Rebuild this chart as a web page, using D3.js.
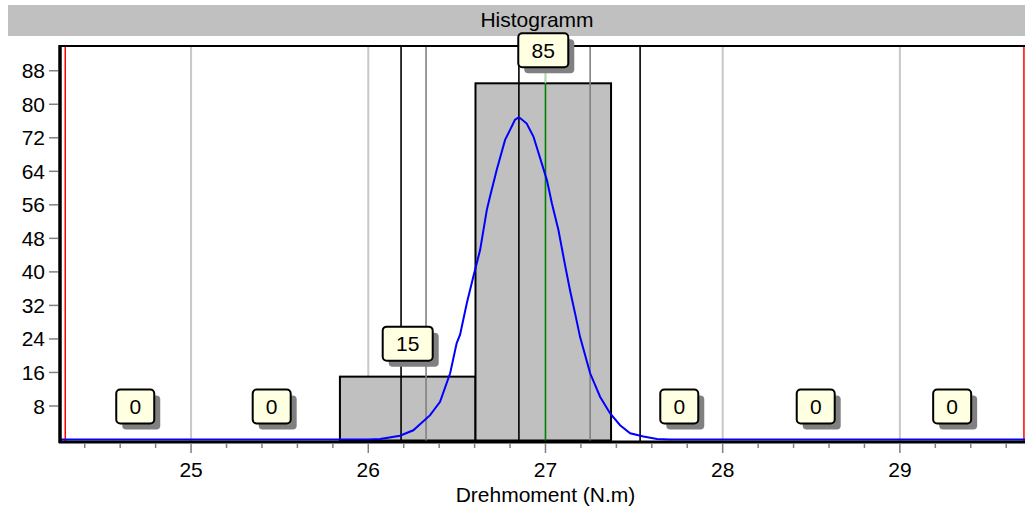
<!DOCTYPE html>
<html><head><meta charset="utf-8">
<script src="https://cdn.jsdelivr.net/npm/d3@7"></script>
<style>body{margin:0;background:#fff;}svg{display:block;font-family:"Liberation Sans",Arial,sans-serif;}</style>
</head><body>
<svg id="c" width="1025" height="509"></svg>
<script>
const title = "Histogramm";
const xTitle = "Drehmoment (N.m)";
const binStart = [24.30, 25.07, 25.84, 26.605, 27.37, 28.14, 28.91];
const binEnd   = [25.07, 25.84, 26.605, 27.37, 28.14, 28.91, 29.68];
const counts   = [0, 0, 15, 85, 0, 0, 0];
const xTicks = [25, 26, 27, 28, 29];
const yTicks = [8, 16, 24, 32, 40, 48, 56, 64, 72, 80, 88];
const blackLines = [26.185, 26.85, 27.534];
const grayLines = [26.326, 27.252];
const greenLine = 27.0;
const redLines = [24.29, 29.70];
const curveX = [24.266, 26.0, 26.067, 26.179, 26.254, 26.349, 26.405, 26.462, 26.499, 26.518, 26.556, 26.593, 26.631, 26.669, 26.687, 26.725, 26.772, 26.800, 26.828, 26.847, 26.857, 26.894, 26.932, 26.979, 27.008, 27.036, 27.073, 27.111, 27.139, 27.167, 27.195, 27.252, 27.308, 27.365, 27.421, 27.478, 27.553, 27.629, 27.70, 29.706];
const curveY = [0, 0, 0.1, 0.9, 2.2, 5.8, 9.0, 15.8, 23.0, 25.0, 32.5, 38.9, 45.2, 54.8, 58.0, 64.4, 71.5, 73.9, 76.3, 76.8, 76.7, 75.4, 72.3, 65.9, 61.9, 56.4, 50.0, 41.5, 35.5, 30.1, 24.5, 15.8, 10.2, 6.2, 3.4, 1.5, 0.7, 0.1, 0, 0];

const svg = d3.select("#c");
const x = d3.scaleLinear().domain([24.266, 29.706]).range([61, 1025]);
const y = d3.scaleLinear().domain([0, 94]).range([439.5, 45.6]);
const plotTop = 46, plotBot = 441;
const fs = 21;

// title band
svg.append("rect").attr("x", 8).attr("y", 5).attr("width", 1017).attr("height", 31).attr("fill", "#c0c0c0");
svg.append("text").attr("x", 537).attr("y", 27).attr("text-anchor", "middle").attr("font-size", fs).attr("fill", "#000").text(title);

// grid
svg.append("g").selectAll("line").data(xTicks).join("line")
  .attr("x1", d => x(d)).attr("x2", d => x(d)).attr("y1", plotTop).attr("y2", plotBot)
  .attr("stroke", "#c8c8c8").attr("stroke-width", 2);

// bars
const bins = counts.map((c, i) => ({c, s: binStart[i], e: binEnd[i]}));
svg.append("g").selectAll("rect").data(bins.filter(b => b.c > 0)).join("rect")
  .attr("x", d => x(d.s)).attr("width", d => x(d.e) - x(d.s))
  .attr("y", d => y(d.c)).attr("height", d => y(0) - y(d.c) + 1)
  .attr("fill", "#c0c0c0").attr("stroke", "#000").attr("stroke-width", 2);

// reference lines
svg.append("g").selectAll("line").data(grayLines).join("line")
  .attr("x1", d => x(d)).attr("x2", d => x(d)).attr("y1", plotTop).attr("y2", plotBot)
  .attr("stroke", "#808080").attr("stroke-width", 1.6);
svg.append("g").selectAll("line").data(blackLines).join("line")
  .attr("x1", d => x(d)).attr("x2", d => x(d)).attr("y1", plotTop).attr("y2", plotBot)
  .attr("stroke", "#000").attr("stroke-width", 1.6);
svg.append("line").attr("x1", x(greenLine)).attr("x2", x(greenLine)).attr("y1", plotTop).attr("y2", y(85))
  .attr("stroke", "#b0dcb0").attr("stroke-width", 1.5);
svg.append("line").attr("x1", x(greenLine)).attr("x2", x(greenLine)).attr("y1", y(85)).attr("y2", plotBot)
  .attr("stroke", "#008000").attr("stroke-width", 1.6);
svg.append("g").selectAll("line").data(redLines).join("line")
  .attr("x1", d => x(d)).attr("x2", d => x(d)).attr("y1", plotTop).attr("y2", plotBot)
  .attr("stroke", "#ff0000").attr("stroke-width", 1.5);

// curve
const pts = curveX.map((v, i) => [v, curveY[i]]);
svg.append("path").datum(pts)
  .attr("d", d3.line().x(d => x(d[0])).y(d => y(d[1])))
  .attr("fill", "none").attr("stroke", "#0000ff").attr("stroke-width", 2);

// frame
svg.append("line").attr("x1", 60).attr("x2", 1025).attr("y1", plotTop).attr("y2", plotTop).attr("stroke", "#000").attr("stroke-width", 2);
svg.append("line").attr("x1", 60).attr("x2", 60).attr("y1", plotTop - 1).attr("y2", 443).attr("stroke", "#000").attr("stroke-width", 3.5);
svg.append("line").attr("x1", 59).attr("x2", 1025).attr("y1", 442).attr("y2", 442).attr("stroke", "#000").attr("stroke-width", 3);

// x axis ticks
const minor = d3.range(0, 28).map(i => 24.4 + i * 0.2).filter(v => v < 29.7);
svg.append("g").selectAll("line").data(minor).join("line")
  .attr("x1", d => x(d)).attr("x2", d => x(d))
  .attr("y1", 443).attr("y2", d => Math.abs(d - Math.round(d)) < 1e-6 ? 453 : 448)
  .attr("stroke", "#808080").attr("stroke-width", 1.5);
svg.append("g").selectAll("text").data(xTicks).join("text")
  .attr("x", d => x(d)).attr("y", 477).attr("text-anchor", "middle").attr("font-size", fs).text(d => d);
svg.append("text").attr("x", x(27)).attr("y", 502).attr("text-anchor", "middle").attr("font-size", fs).text(xTitle);

// y axis ticks
svg.append("g").selectAll("line").data(yTicks).join("line")
  .attr("x1", 49).attr("x2", 58).attr("y1", d => y(d)).attr("y2", d => y(d))
  .attr("stroke", "#808080").attr("stroke-width", 1.5);
svg.append("g").selectAll("text").data(yTicks).join("text")
  .attr("x", 45).attr("y", d => y(d)).attr("dy", "0.36em").attr("text-anchor", "end").attr("font-size", fs).text(d => d);

// count labels
const lg = svg.append("g").selectAll("g").data(bins).join("g")
  .attr("transform", d => `translate(${x((d.s + d.e) / 2)},${y(d.c) - 33})`);
const bw = d => String(d.c).length > 1 ? 50 : 38;
lg.append("rect").attr("x", d => -bw(d) / 2 + 6).attr("y", -17 + 6).attr("width", bw).attr("height", 34)
  .attr("rx", 4).attr("fill", "#808080");
lg.append("rect").attr("x", d => -bw(d) / 2).attr("y", -17).attr("width", bw).attr("height", 34)
  .attr("rx", 4).attr("fill", "#ffffe1").attr("stroke", "#000").attr("stroke-width", 2);
lg.append("text").attr("text-anchor", "middle").attr("dy", "0.36em").attr("font-size", fs).text(d => d.c);
</script>
</body></html>
